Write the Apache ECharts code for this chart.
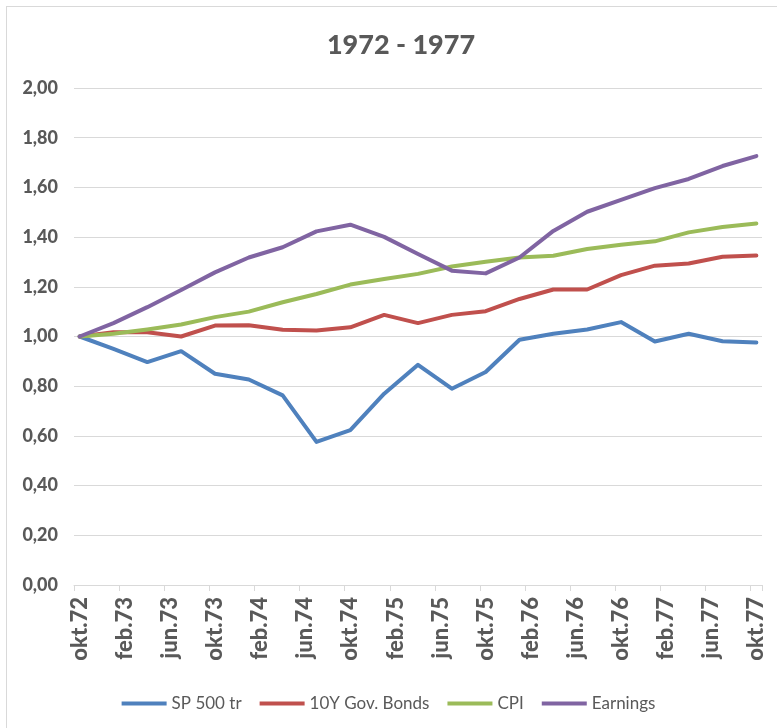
<!DOCTYPE html>
<html>
<head>
<meta charset="utf-8">
<script src="https://cdn.jsdelivr.net/npm/echarts@6/dist/echarts.min.js"></script>
<style>
  html, body { margin: 0; padding: 0; background: #fff; }
  #frame { position: absolute; left: 6px; top: 6px; width: 780px; height: 740px; border: 1px solid #d9d9d9; }
  #chart { position: absolute; left: 0; top: 0; width: 777px; height: 728px; }
</style>
</head>
<body>
<div id="frame"></div>
<div id="chart"></div>
<script>
// måneder på aksen
const monthNames = ["jan", "feb", "mar", "apr", "mai", "jun", "jul", "aug", "sep", "okt", "nov", "des"];
// kvartalspunkter (okt.72 - okt.77)
const quarters = [
  "okt.72", "jan.73", "apr.73", "jul.73", "okt.73", "jan.74", "apr.74", "jul.74",
  "okt.74", "jan.75", "apr.75", "jul.75", "okt.75", "jan.76", "apr.76", "jul.76",
  "okt.76", "jan.77", "apr.77", "jul.77", "okt.77"
];
const sp500 = [1.00, 0.95, 0.897, 0.941, 0.850, 0.827, 0.763, 0.576, 0.623, 0.770, 0.886,
  0.790, 0.857, 0.987, 1.011, 1.028, 1.058, 0.980, 1.011, 0.981, 0.976];
const bonds = [1.00, 1.017, 1.017, 1.000, 1.044, 1.045, 1.027, 1.024, 1.037, 1.087, 1.054,
  1.087, 1.102, 1.151, 1.189, 1.189, 1.247, 1.285, 1.294, 1.321, 1.326];
const cpi = [1.00, 1.011, 1.028, 1.048, 1.078, 1.100, 1.138, 1.171, 1.209, 1.231, 1.252,
  1.282, 1.301, 1.318, 1.325, 1.352, 1.369, 1.383, 1.419, 1.441, 1.455];
const earnings = [1.00, 1.054, 1.118, 1.187, 1.258, 1.318, 1.359, 1.423, 1.450, 1.401, 1.332,
  1.265, 1.254, 1.318, 1.425, 1.502, 1.550, 1.597, 1.634, 1.686, 1.726];

// alle måneder fra okt.72 til okt.77
const months = [];
for (let y = 72; y <= 77; y++) {
  monthNames.forEach((m, i) => {
    if ((y === 72 && i < 9) || (y === 77 && i > 9)) return;
    months.push(m + "." + y);
  });
}

const grey = "#595959";
const font = "Lato";
const mk = (name, vals, color) => ({
  name: name,
  type: "line",
  data: quarters.map((q, i) => [q, vals[i]]),
  symbol: "none",
  lineStyle: { color: color, width: 4, cap: "round", join: "round" },
  itemStyle: { color: color },
});

const myChart = echarts.init(document.getElementById("chart"));
const option = {
  animation: false,
  title: {
    text: "1972 - 1977",
    left: 396,
    textAlign: "center",
    top: 27,
    textStyle: { color: grey, fontFamily: font, fontWeight: 900, fontSize: 27 },
  },
  legend: {
    bottom: 11,
    left: "center",
    icon: "rect",
    itemWidth: 45,
    itemHeight: 4,
    itemGap: 18,
    textStyle: { color: grey, fontFamily: font, fontSize: 17 },
    data: ["SP 500 tr", "10Y Gov. Bonds", "CPI", "Earnings"],
  },
  grid: { left: 74, right: 15, top: 88, bottom: 143, containLabel: false },
  xAxis: {
    type: "category",
    data: months,
    boundaryGap: true,
    axisLine: { lineStyle: { color: "#d9d9d9", width: 1 } },
    axisTick: { show: true, interval: 3, length: 6, lineStyle: { color: "#d9d9d9" } },
    axisLabel: {
      interval: 3,
      rotate: 90,
      margin: 12,
      color: grey,
      fontFamily: font,
      fontWeight: 900,
      fontSize: 22,
    },
  },
  yAxis: {
    type: "value",
    min: 0,
    max: 2,
    interval: 0.2,
    axisLine: { show: false },
    axisTick: { show: false },
    splitLine: { lineStyle: { color: "#d9d9d9", width: 1 } },
    axisLabel: {
      margin: 16,
      color: grey,
      fontFamily: font,
      fontWeight: 900,
      fontSize: 18,
      formatter: (v) => v.toFixed(2).replace(".", ","),
    },
  },
  series: [
    mk("SP 500 tr", sp500, "#4F81BD"),
    mk("10Y Gov. Bonds", bonds, "#C0504D"),
    mk("CPI", cpi, "#9BBB59"),
    mk("Earnings", earnings, "#8064A2"),
  ],
};
myChart.setOption(option);
</script>
</body>
</html>
